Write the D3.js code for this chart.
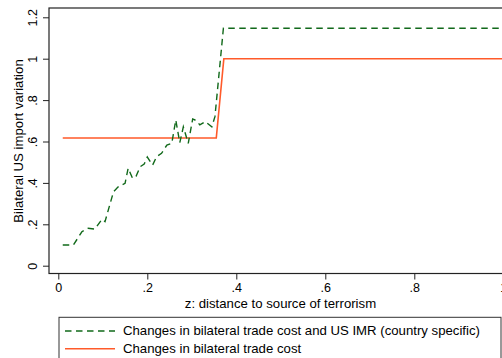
<!DOCTYPE html>
<html>
<head>
<meta charset="utf-8">
<script src="https://cdn.jsdelivr.net/npm/d3@7"></script>
<style>
  html, body { margin: 0; padding: 0; background: #fff; }
  svg { display: block; font-family: "Liberation Sans", Arial, Helvetica, sans-serif; }
</style>
</head>
<body>
<svg id="chart" width="502" height="358"></svg>
<script>
// Simulated US import variation by distance to the source of terrorism
const fullZ = [0.01, 0.034, 0.053, 0.067, 0.082, 0.098, 0.105, 0.124, 0.134, 0.15,
  0.157, 0.167, 0.175, 0.184, 0.193, 0.2, 0.212, 0.221, 0.232, 0.244,
  0.255, 0.264, 0.273, 0.281, 0.292, 0.302, 0.311, 0.318, 0.33, 0.345,
  0.352, 0.371, 1.0];
const fullEffect = [0.10, 0.10, 0.164, 0.181, 0.177, 0.224, 0.213, 0.357, 0.38, 0.398,
  0.471, 0.422, 0.433, 0.478, 0.491, 0.525, 0.486, 0.527, 0.543, 0.583,
  0.591, 0.704, 0.594, 0.671, 0.591, 0.709, 0.70, 0.68, 0.696, 0.671,
  0.72, 1.147, 1.147];

const costZ = [0.01, 0.355, 0.372, 1.0];
const costEffect = [0.617, 0.617, 1.0, 1.0];

const xTicks = [0, 0.2, 0.4, 0.6, 0.8, 1];
const xTickLabels = ["0", ".2", ".4", ".6", ".8", "1"];
const yTicks = [0, 0.2, 0.4, 0.6, 0.8, 1, 1.2];
const yTickLabels = ["0", ".2", ".4", ".6", ".8", "1", "1.2"];

const seriesNames = [
  "Changes in bilateral trade cost and US IMR (country specific)",
  "Changes in bilateral trade cost"
];
const seriesColors = ["#11691a", "#ff5a2a"];
const seriesDash = ["6.5,4.5", null];

const svg = d3.select("#chart");

// plot region frame
const frame = { left: 49, top: 8, right: 512, bottom: 273.5 };

const x = d3.scaleLinear().domain([0, 1]).range([58.3, 503.3]);
const y = d3.scaleLinear().domain([0, 1.2]).range([265.7, 17.3]);

svg.append("rect")
  .attr("x", frame.left).attr("y", frame.top)
  .attr("width", frame.right - frame.left)
  .attr("height", frame.bottom - frame.top)
  .attr("fill", "none")
  .attr("stroke", "#222")
  .attr("stroke-width", 1.2);

// y axis
const yAxis = svg.append("g")
  .attr("transform", `translate(${frame.left},0)`)
  .call(d3.axisLeft(y).tickValues(yTicks)
    .tickFormat((d, i) => yTickLabels[i]).tickSize(6).tickPadding(0));
yAxis.select(".domain").remove();
yAxis.selectAll(".tick line").attr("stroke", "#222").attr("stroke-width", 1);
yAxis.selectAll(".tick text")
  .attr("transform", "rotate(-90)")
  .attr("x", 0).attr("y", -12.3).attr("dy", null)
  .attr("text-anchor", "middle")
  .attr("font-size", 12.5)
  .attr("fill", "#000");

// x axis
const xAxis = svg.append("g")
  .attr("transform", `translate(0,${frame.bottom})`)
  .call(d3.axisBottom(x).tickValues(xTicks)
    .tickFormat((d, i) => xTickLabels[i]).tickSize(6).tickPadding(0));
xAxis.select(".domain").remove();
xAxis.selectAll(".tick line").attr("stroke", "#222").attr("stroke-width", 1);
xAxis.selectAll(".tick text")
  .attr("y", 18.5).attr("dy", null)
  .attr("font-size", 12.5)
  .attr("fill", "#000");

// axis titles
svg.append("text")
  .attr("transform", "translate(23.3,141) rotate(-90)")
  .attr("text-anchor", "middle")
  .attr("font-size", 13.2)
  .text("Bilateral US import variation");

svg.append("text")
  .attr("x", 280.5).attr("y", 307.5)
  .attr("text-anchor", "middle")
  .attr("font-size", 13.2)
  .text("z: distance to source of terrorism");

// series lines
const line = d3.line().x(d => x(d[0])).y(d => y(d[1]));
const series = [
  d3.zip(fullZ, fullEffect),
  d3.zip(costZ, costEffect)
];

// draw orange below green
[1, 0].forEach(i => {
  svg.append("path")
    .datum(series[i])
    .attr("d", line)
    .attr("fill", "none")
    .attr("stroke", seriesColors[i])
    .attr("stroke-width", i === 0 ? 1.4 : 1.6)
    .attr("stroke-dasharray", seriesDash[i])
    .attr("stroke-linejoin", "miter");
});

// legend
const legend = svg.append("g");
legend.append("rect")
  .attr("x", 59).attr("y", 317.3)
  .attr("width", 442).attr("height", 70)
  .attr("fill", "#fff")
  .attr("stroke", "#333")
  .attr("stroke-width", 1);

const rowY = [331, 348.7];
const textY = [334.7, 352.6];
seriesNames.forEach((name, i) => {
  legend.append("line")
    .attr("x1", 65).attr("x2", 115)
    .attr("y1", rowY[i]).attr("y2", rowY[i])
    .attr("stroke", seriesColors[i])
    .attr("stroke-width", i === 0 ? 1.4 : 1.6)
    .attr("stroke-dasharray", seriesDash[i]);
  legend.append("text")
    .attr("x", 123).attr("y", textY[i])
    .attr("font-size", 13.2)
    .text(name);
});
</script>
</body>
</html>
